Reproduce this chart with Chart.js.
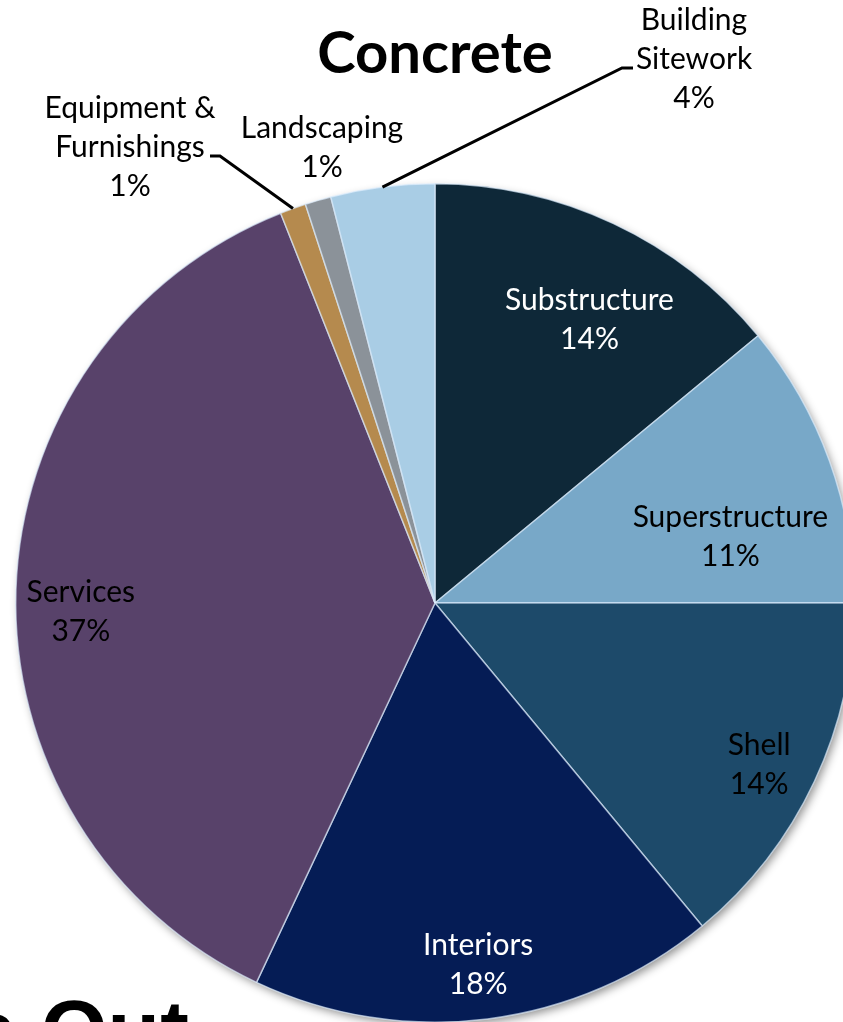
<!DOCTYPE html>
<html>
<head>
<meta charset="utf-8">
<script src="https://cdn.jsdelivr.net/npm/chart.js@4"></script>
<style>
  html, body { margin: 0; padding: 0; background: #ffffff; overflow: hidden; width: 843px; height: 1022px; }
  #wrap { position: absolute; left: 0; top: 0; width: 870px; height: 1100px; }
</style>
</head>
<body>
<div id="wrap"><canvas id="pie"></canvas></div>
<script>
// Share of concrete by building element (percent)
const categories = [
  'Substructure', 'Superstructure', 'Shell', 'Interiors', 'Services',
  'Equipment & Furnishings', 'Landscaping', 'Building Sitework'
];
const shares = [14, 11, 14, 18, 37, 1, 1, 4];
const sliceColors = [
  '#0e2838', '#78a8c8', '#1d4a6a', '#051c55', '#58426a',
  '#b58a4e', '#8b9299', '#a9cde5'
];
const chartTitle = 'Concrete';
const footerText = 'e Out';

const LABEL_FONT = '30px Lato, "Open Sans", sans-serif';
const LINE_GAP = 39;

// Label layout: inside labels sit on the slice's mid angle at a fraction of the radius;
// outside labels get a text anchor and a leader line that starts on the slice edge.
const labelLayout = [
  { inside: true, f: 0.77, shift: 3.4, color: '#ffffff' },
  { inside: true, f: 0.722, shift: 7.2, color: '#000000' },
  { inside: true, f: 0.864, shift: 1.3, color: '#000000' },
  { inside: true, f: 0.87, shift: 0.4, color: '#ffffff' },
  { inside: true, f: 0.845, shift: -3.3, color: '#000000' },
  { inside: false, text: ['Equipment &', 'Furnishings', '1%'], tx: 130, ty: 108,
    leader: [[220, 156], [210, 156]] },
  { inside: false, text: ['Landscaping', '1%'], tx: 322, ty: 128, leader: null },
  { inside: false, text: ['Building', 'Sitework', '4%'], tx: 694, ty: 20,
    leader: [[622, 68], [633, 68]] }
];

// Soft shadow under the whole pie
const pieShadow = {
  id: 'pieShadow',
  beforeDatasetsDraw(chart) {
    const arc = chart.getDatasetMeta(0).data[0];
    if (!arc) return;
    const ctx = chart.ctx;
    ctx.save();
    ctx.shadowColor = 'rgba(0,0,0,0.45)';
    ctx.shadowBlur = 10;
    ctx.shadowOffsetX = 3;
    ctx.shadowOffsetY = 4;
    ctx.fillStyle = '#555555';
    ctx.beginPath();
    ctx.arc(arc.x, arc.y, arc.outerRadius - 1, 0, Math.PI * 2);
    ctx.fill();
    ctx.restore();
  }
};

// Slice labels, leader lines, title and footer text
const pieLabels = {
  id: 'pieLabels',
  afterDatasetsDraw(chart) {
    const ctx = chart.ctx;
    const meta = chart.getDatasetMeta(0);
    const data = chart.data.datasets[0].data;
    ctx.save();
    ctx.font = LABEL_FONT;
    ctx.textAlign = 'center';
    ctx.textBaseline = 'middle';
    meta.data.forEach((arc, i) => {
      const lay = labelLayout[i];
      const mid = (arc.startAngle + arc.endAngle) / 2;
      if (lay.inside) {
        const a = mid + lay.shift * Math.PI / 180;
        const r = arc.outerRadius * lay.f;
        const cx = arc.x + Math.cos(a) * r;
        const cy = arc.y + Math.sin(a) * r;
        ctx.fillStyle = lay.color;
        ctx.fillText(categories[i], cx, cy - LINE_GAP / 2);
        ctx.fillText(data[i] + '%', cx, cy + LINE_GAP / 2);
      } else {
        if (lay.leader) {
          const ex = arc.x + Math.cos(mid) * arc.outerRadius;
          const ey = arc.y + Math.sin(mid) * arc.outerRadius;
          ctx.strokeStyle = '#000000';
          ctx.lineWidth = 3;
          ctx.beginPath();
          ctx.moveTo(ex, ey);
          lay.leader.forEach(p => ctx.lineTo(p[0], p[1]));
          ctx.stroke();
        }
        ctx.fillStyle = '#000000';
        const lines = lay.text.slice(0, -1).concat([data[i] + '%']);
        lines.forEach((t, k) => ctx.fillText(t, lay.tx, lay.ty + k * LINE_GAP));
      }
    });

    ctx.fillStyle = '#000000';
    ctx.font = 'bold 58px Lato, "Open Sans", sans-serif';
    ctx.textBaseline = 'alphabetic';
    ctx.fillText(chartTitle, 435, 73);

    ctx.textAlign = 'left';
    ctx.font = 'bold 86px "Liberation Sans", Arial, sans-serif';
    ctx.fillText(footerText, -31, 1060);
    ctx.restore();
  }
};

new Chart(document.getElementById('pie'), {
  type: 'pie',
  data: {
    labels: categories,
    datasets: [{
      data: shares,
      backgroundColor: sliceColors,
      borderColor: 'rgba(225,240,255,0.65)',
      borderWidth: 1.5,
      hoverOffset: 0
    }]
  },
  options: {
    responsive: true,
    maintainAspectRatio: false,
    animation: false,
    rotation: 0,
    layout: { padding: { top: 183, left: 15, right: 15, bottom: 77 } },
    plugins: {
      legend: { display: false },
      tooltip: { enabled: false },
      title: { display: false }
    }
  },
  plugins: [pieShadow, pieLabels]
});
</script>
</body>
</html>
